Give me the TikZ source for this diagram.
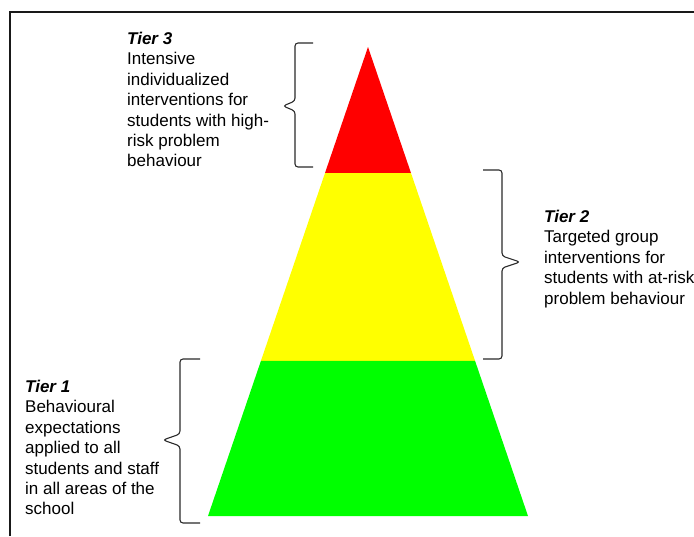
\documentclass[tikz,border=0pt]{standalone}
\usepackage{fontspec}
\setmainfont{Liberation Sans}
\usepackage{xcolor}
\usepackage{tikz}
\usetikzlibrary{calc}
\definecolor{tierred}{HTML}{FF0000}
\definecolor{tieryellow}{HTML}{FFFF00}
\definecolor{tiergreen}{HTML}{00FF00}
\definecolor{bracegray}{HTML}{2A2A2A}

\begin{document}
\begin{tikzpicture}[x=1pt,y=-1pt,
  tiertext/.style={anchor=north west,inner sep=0pt,align=left,font=\fontsize{17}{20.4}\selectfont},
  bracket/.style={draw=bracegray,line width=1.1pt,rounded corners=3pt}]
  \useasboundingbox (0,0) rectangle (694,536);
  % frame of the screenshot
  \draw[line width=2pt,black!90] (10,536) -- (10,12) -- (694,12);
  % pyramid corners and band limits
  \coordinate (apex) at (368,47);
  \coordinate (bl) at (208,516);
  \coordinate (br) at (528,516);
  \coordinate (l3) at ($(apex)!0.2687!(bl)$);
  \coordinate (r3) at ($(apex)!0.2687!(br)$);
  \coordinate (l2) at ($(apex)!0.6695!(bl)$);
  \coordinate (r2) at ($(apex)!0.6695!(br)$);
  \fill[tierred] (apex) -- (r3) -- (l3) -- cycle;
  \fill[tieryellow] (l3) -- (r3) -- (r2) -- (l2) -- cycle;
  \fill[tiergreen] (l2) -- (r2) -- (br) -- (bl) -- cycle;
  % labels
  \node[tiertext] (tier3) at (127,32) {\textbf{\textit{Tier 3}}\\Intensive\\individualized\\interventions for\\students with high-\\risk problem\\behaviour};
  \node[tiertext] (tier2) at (544,210) {\textbf{\textit{Tier 2}}\\Targeted group\\interventions for\\students with at-risk\\problem behaviour};
  \node[tiertext] (tier1) at (25,380) {\textbf{\textit{Tier 1}}\\Behavioural\\expectations\\applied to all\\students and staff\\in all areas of the\\school};
  % braces
  \draw[bracket] (313,43) -- (295,43) -- (295,101) -- (283,106) -- (295,111) -- (295,167) -- (313,167);
  \draw[bracket] (483,170) -- (502,170) -- (502,256) -- (520,262) -- (502,268) -- (502,359) -- (483,359);
  \draw[bracket] (200,359) -- (180,359) -- (180,434) -- (163,440) -- (180,446) -- (180,523) -- (200,523);
\end{tikzpicture}
\end{document}
